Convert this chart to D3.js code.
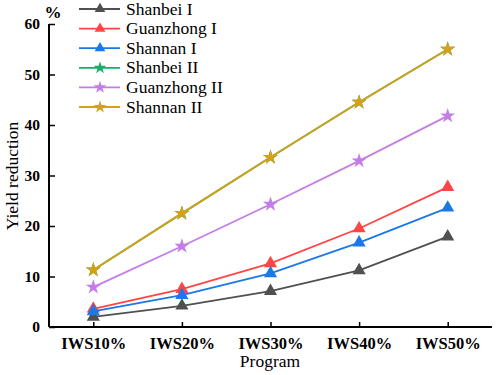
<!DOCTYPE html>
<html><head><meta charset="utf-8">
<script src="https://cdn.jsdelivr.net/npm/d3@7/dist/d3.min.js"></script>
<style>body{margin:0;background:#fff}svg{display:block}
text{font-family:"Liberation Serif","Times New Roman","DejaVu Serif",serif;}</style>
</head><body>
<script>
const categories = ["IWS10%","IWS20%","IWS30%","IWS40%","IWS50%"];
const seriesNames = ["Shanbei I","Guanzhong I","Shannan I","Shanbei II","Guanzhong II","Shannan II"];
const shanbeiI    = [2.0, 4.2, 7.1, 11.2, 17.9];
const guanzhongI  = [3.6, 7.5, 12.6, 19.5, 27.7];
const shannanI    = [3.1, 6.3, 10.6, 16.7, 23.6];
const shanbeiII   = [11.3, 22.5, 33.6, 44.5, 55.0];
const guanzhongII = [7.9, 16.0, 24.3, 32.9, 41.8];
const shannanII   = [11.3, 22.5, 33.6, 44.5, 55.0];
const yTicks = [0,10,20,30,40,50,60];
const colors = ["#505050","#ff4545","#1b78e6","#1aad6a","#c47de8","#d6a019"];
const shapes = ["triangle","triangle","triangle","star","star","star"];
const allValues = [shanbeiI, guanzhongI, shannanI, shanbeiII, guanzhongII, shannanII];

const FF='"Liberation Serif","Times New Roman","DejaVu Serif",serif';
const W=498,H=375;
const svg=d3.select("body").append("svg").attr("width",W).attr("height",H);
const x=d3.scalePoint().domain(categories).range([49,492]).padding(0.5);
const y=d3.scaleLinear().domain([0,60]).range([327,24]);

// axes
const xa=svg.append("g").attr("transform","translate(0,327)")
  .call(d3.axisBottom(x).tickSizeInner(-5).tickSizeOuter(0).tickPadding(10));
const ya=svg.append("g").attr("transform","translate(49,0)")
  .call(d3.axisLeft(y).tickValues(yTicks).tickSizeInner(-6).tickSizeOuter(0).tickPadding(9));
[xa,ya].forEach(a=>{
  a.attr("font-family",FF);
  a.select(".domain").attr("stroke","#000").attr("stroke-width",2);
  a.selectAll(".tick line").attr("stroke","#000").attr("stroke-width",1.5);
  a.selectAll("text").attr("fill","#000").style("font-family",FF)
    .attr("font-weight","bold").attr("font-size",15.5);
});
xa.select(".domain").attr("d","M49,0H492");
ya.select(".domain").attr("d","M0,24V327");
xa.selectAll(".tick text").attr("font-size",16.5);

svg.append("text").attr("x",270).attr("y",367).attr("text-anchor","middle")
  .style("font-family",FF).attr("font-size",17.5).text("Program");
svg.append("text").attr("transform","translate(18,176) rotate(-90)").attr("text-anchor","middle")
  .style("font-family",FF).attr("font-size",17.5).text("Yield reduction");
svg.append("text").attr("x",53).attr("y",18).attr("text-anchor","middle")
  .style("font-family",FF).attr("font-weight","bold").attr("font-size",17).text("%");

const sym=(s,size)=>d3.symbol().type(s==="star"?d3.symbolStar:d3.symbolTriangle).size(size)();
const line=d3.line().x((d,i)=>x(categories[i])).y(d=>y(d));

allValues.forEach((vals,k)=>{
  const g=svg.append("g");
  g.append("path").attr("d",line(vals)).attr("fill","none").attr("stroke",colors[k]).attr("stroke-width",1.8);
  g.selectAll("path.m").data(vals).join("path").attr("class","m")
    .attr("transform",(d,i)=>`translate(${x(categories[i])},${y(d)})`)
    .attr("d",sym(shapes[k],shapes[k]==="star"?70:75)).attr("fill",colors[k]);
});

// legend
const lg=svg.append("g");
seriesNames.forEach((n,k)=>{
  const yy=9+k*19.6;
  lg.append("line").attr("x1",79).attr("x2",120).attr("y1",yy).attr("y2",yy).attr("stroke",colors[k]).attr("stroke-width",1.8);
  lg.append("path").attr("transform",`translate(100,${yy})`).attr("d",sym(shapes[k],50)).attr("fill",colors[k]);
  lg.append("text").attr("x",126).attr("y",yy+5.5).style("font-family",FF).attr("font-size",17.5).text(n);
});
</script>
</body></html>
